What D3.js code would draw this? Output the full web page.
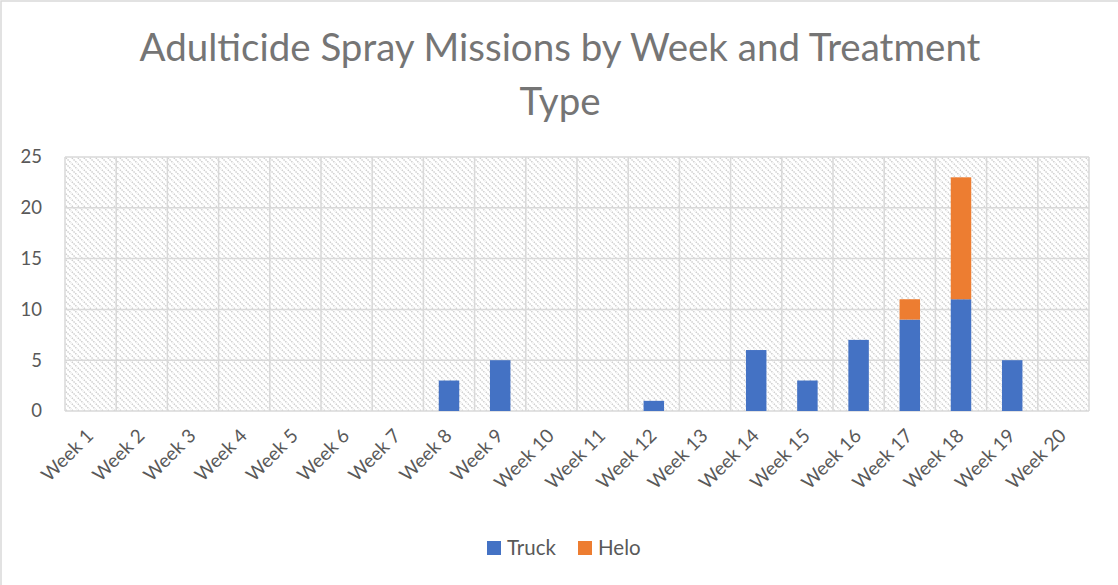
<!DOCTYPE html>
<html>
<head>
<meta charset="utf-8">
<script src="https://cdn.jsdelivr.net/npm/d3@7"></script>
<style>
  html, body { margin: 0; padding: 0; background: #fff; }
  svg { display: block; }
  text { font-family: Lato, "Open Sans", sans-serif; }
</style>
</head>
<body>
<div id="chart"></div>
<script>
const categories = ["Week 1","Week 2","Week 3","Week 4","Week 5","Week 6","Week 7","Week 8","Week 9","Week 10",
  "Week 11","Week 12","Week 13","Week 14","Week 15","Week 16","Week 17","Week 18","Week 19","Week 20"];
const truck = [0,0,0,0,0,0,0,3,5,0,0,1,0,6,3,7,9,11,5,0];
const helo  = [0,0,0,0,0,0,0,0,0,0,0,0,0,0,0,0,2,12,0,0];
const seriesNames = ["Truck", "Helo"];
const seriesColors = ["#4472C4", "#ED7D31"];
const yTicks = [0, 5, 10, 15, 20, 25];
const titleLines = ["Adulticide Spray Missions by Week and Treatment", "Type"];

const W = 1118, H = 585;
const margin = { left: 65, right: 29, top: 157, bottom: 174 };
const pw = W - margin.left - margin.right;
const ph = H - margin.top - margin.bottom;

const svg = d3.select("#chart").append("svg").attr("width", W).attr("height", H);

// hatch pattern
const defs = svg.append("defs");
const pat = defs.append("pattern").attr("id", "hatch").attr("patternUnits", "userSpaceOnUse")
  .attr("width", 6).attr("height", 6);
pat.append("rect").attr("width", 6).attr("height", 6).attr("fill", "#fff");
pat.append("path").attr("d", "M-1,-1 L7,7 M-1,5 L1,7 M5,-1 L7,1")
  .attr("stroke", "#cccccc").attr("stroke-width", 1.4).attr("stroke-dasharray", "1.5,1");

// chart border (left & top visible)
svg.append("rect").attr("x", 1).attr("y", 1).attr("width", W + 10).attr("height", H + 10)
  .attr("fill", "none").attr("stroke", "#d9d9d9").attr("stroke-width", 1.5);

// title
svg.append("g").selectAll("text").data(titleLines).enter().append("text")
  .attr("x", 560).attr("y", (d, i) => 61 + i * 54)
  .attr("text-anchor", "middle").attr("fill", "#757575")
  .attr("font-size", 38.5).text(d => d);

const g = svg.append("g").attr("transform", `translate(${margin.left},${margin.top})`);

const x = d3.scaleBand().domain(categories).range([0, pw]).paddingInner(0.6).paddingOuter(0.3);
const xb = d3.scaleBand().domain(categories).range([0, pw]);
const y = d3.scaleLinear().domain([0, 25]).range([ph, 0]);

// plot area background
g.append("rect").attr("width", pw).attr("height", ph).attr("fill", "url(#hatch)");

// horizontal gridlines
g.append("g").selectAll("line").data(yTicks).enter().append("line")
  .attr("x1", 0).attr("x2", pw).attr("y1", d => y(d)).attr("y2", d => y(d))
  .attr("stroke", "#d9d9d9").attr("stroke-width", 1.5);
// vertical gridlines at category boundaries
const bounds = categories.map(c => xb(c)).concat([pw]);
g.append("g").selectAll("line").data(bounds).enter().append("line")
  .attr("x1", d => d).attr("x2", d => d).attr("y1", 0).attr("y2", ph)
  .attr("stroke", "#d9d9d9").attr("stroke-width", 1.5);

// stacked bars
const rows = categories.map((c, i) => ({ cat: c, Truck: truck[i], Helo: helo[i] }));
const stack = d3.stack().keys(seriesNames)(rows);
g.append("g").selectAll("g").data(stack).enter().append("g")
  .attr("fill", (d, i) => seriesColors[i])
  .selectAll("rect").data(d => d.filter(p => p[1] - p[0] > 0)).enter().append("rect")
  .attr("x", d => x(d.data.cat)).attr("width", x.bandwidth())
  .attr("y", d => y(d[1])).attr("height", d => y(d[0]) - y(d[1]));

// y axis labels
const yAxis = d3.axisLeft(y).tickValues(yTicks).tickSize(0).tickPadding(23);
const ya = g.append("g").call(yAxis);
ya.select(".domain").remove();
ya.selectAll("text").attr("font-size", 18.5).attr("fill", "#595959")
  .attr("font-family", "Lato, 'Open Sans', sans-serif");

// x axis labels
const xAxis = d3.axisBottom(xb).tickSize(0).tickPadding(0);
const xa = g.append("g").attr("transform", `translate(0,${ph})`).call(xAxis);
xa.select(".domain").remove();
xa.selectAll("text")
  .attr("font-size", 19).attr("fill", "#595959")
  .attr("font-family", "Lato, 'Open Sans', sans-serif")
  .attr("text-anchor", "end").attr("dy", null).attr("y", 0).attr("x", 0)
  .attr("transform", "translate(4,26) rotate(-45)");

// legend
const legend = svg.append("g").attr("transform", "translate(487,541)");
const li = legend.selectAll("g").data(seriesNames).enter().append("g")
  .attr("transform", (d, i) => `translate(${i * 91},0)`);
li.append("rect").attr("width", 14).attr("height", 14).attr("fill", (d, i) => seriesColors[i]);
li.append("text").attr("x", 20).attr("y", 14).attr("font-size", 20.5).attr("fill", "#595959").text(d => d);
</script>
</body>
</html>
